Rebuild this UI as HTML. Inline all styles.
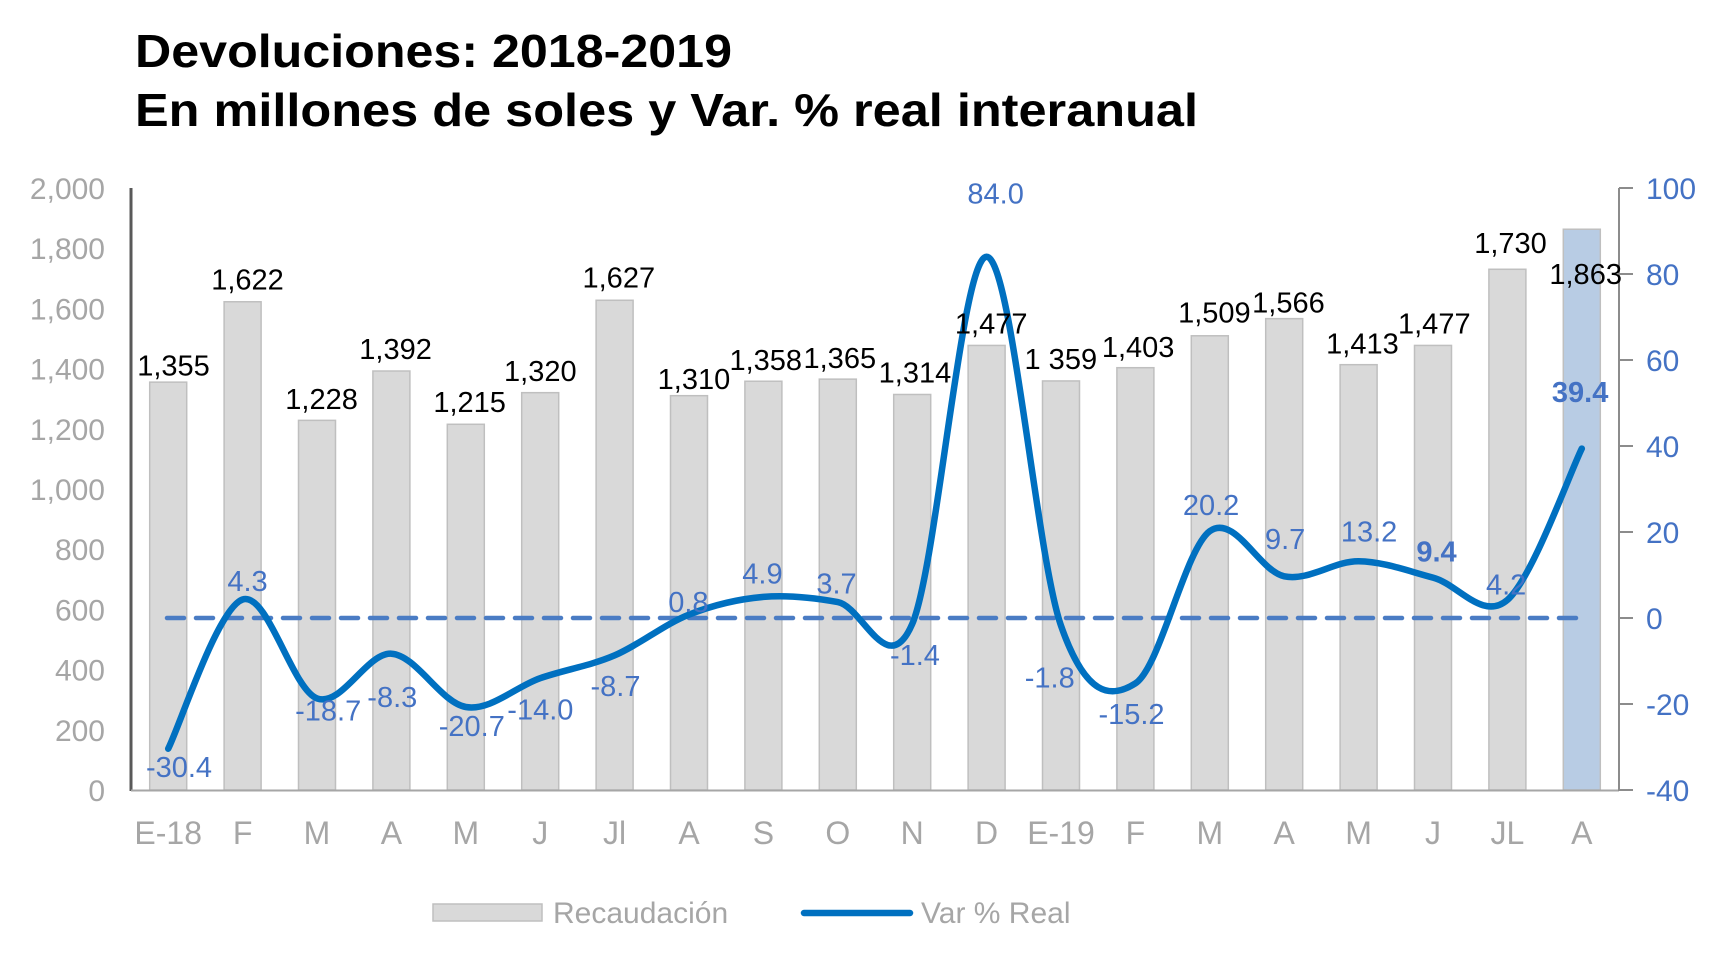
<!DOCTYPE html>
<html><head><meta charset="utf-8">
<style>
html,body{margin:0;padding:0;background:#fff;}
svg{display:block;font-family:"Liberation Sans",Arial,sans-serif;}
</style></head>
<body>
<svg id="c" width="1732" height="964" viewBox="0 0 1732 964" xmlns="http://www.w3.org/2000/svg">
<text x="135" y="67" font-size="46" font-weight="bold" fill="#000" textLength="597" lengthAdjust="spacingAndGlyphs">Devoluciones: 2018-2019</text>
<text x="135" y="126" font-size="46" font-weight="bold" fill="#000" textLength="1063" lengthAdjust="spacingAndGlyphs">En millones de soles y Var. % real interanual</text>
<g id="bars"></g>
<line x1="131" y1="188" x2="131" y2="791" stroke="#595959" stroke-width="3"/>
<line x1="131" y1="790.5" x2="1619" y2="790.5" stroke="#a6a6a6" stroke-width="2"/>
<line x1="1619" y1="188" x2="1619" y2="791" stroke="#8c8c8c" stroke-width="2"/>
<g id="ticks"></g>
<line x1="167" y1="618" x2="1582" y2="618" stroke="#4a7cc4" stroke-width="4.5" stroke-dasharray="17,12" stroke-linecap="round"/>
<path id="ln" d="" fill="none" stroke="#0070c0" stroke-width="6.5" stroke-linecap="round" stroke-linejoin="round"/>
<g id="lbls"></g>
<rect x="433" y="904" width="109" height="17" fill="#d9d9d9" stroke="#bfbfbf" stroke-width="1.5"/>
<text x="553" y="923" font-size="30" fill="#a6a6a6">Recaudación</text>
<line x1="804" y1="913" x2="910" y2="913" stroke="#0070c0" stroke-width="6.5" stroke-linecap="round"/>
<text x="921" y="923" font-size="30" fill="#a6a6a6">Var % Real</text>
</svg>
<script>
var NS="http://www.w3.org/2000/svg";
function el(p,t,a,txt){var e=document.createElementNS(NS,t);for(var k in a)e.setAttribute(k,a[k]);if(txt!==undefined)e.textContent=txt;document.getElementById(p).appendChild(e);return e;}
var cats=["E-18","F","M","A","M","J","Jl","A","S","O","N","D","E-19","F","M","A","M","J","JL","A"];
var vals=[1355,1622,1228,1392,1215,1320,1627,1310,1358,1365,1314,1477,1359,1403,1509,1566,1413,1477,1730,1863];
var vlab=["1,355","1,622","1,228","1,392","1,215","1,320","1,627","1,310","1,358","1,365","1,314","1,477","1 359","1,403","1,509","1,566","1,413","1,477","1,730","1,863"];
var vpos=[[157,340],[224,262],[291,370],[358,325],[425,373],[489,345],[560,260],[628,352],[693,335],[760,333],[828,346],[897,302],[960,334],[1030,323],[1099,292],[1166,283],[1233,320],[1298,302],[1367,229],[1435,257]];
var pct=[-30.4,4.3,-18.7,-8.3,-20.7,-14.0,-8.7,0.8,4.9,3.7,-1.4,84.0,-1.8,-15.2,20.2,9.7,13.2,9.4,4.2,39.4];
var plab=["-30.4","4.3","-18.7","-8.3","-20.7","-14.0","-8.7","0.8","4.9","3.7","-1.4","84.0","-1.8","-15.2","20.2","9.7","13.2","9.4","4.2","39.4"];
var ppos=[[162,703],[224,535],[297,652],[355,640],[427,666],[489,651],[557,630],[623,554],[690,528],[757,537],[828,602],[901,184],[950,622],[1024,655],[1096,466],[1163,497],[1239,490],[1300,508],[1363,538],[1430,364]];
var S=1.105;
var y0=790,y2k=188,py0=618,pk=602/140;
var step=(1619-131)/20;
function cx(i){return 131+step*(i+0.5);}
for(var i=0;i<20;i++){
  var h=vals[i]/2000*(y0-y2k);
  el("bars","rect",{x:cx(i)-18.5,y:y0-h,width:37,height:h,fill:i==19?"#b8cce4":"#d9d9d9",stroke:"#bfbfbf","stroke-width":1.5});
  el("ticks","text",{x:cx(i),y:844,"font-size":32,fill:"#a6a6a6","text-anchor":"middle"},cats[i]);
}
for(var k=0;k<=10;k++){
  var v=k*200,y=y0-v/2000*(y0-y2k);
  el("ticks","text",{x:105,y:y+11,"font-size":30,fill:"#a6a6a6","text-anchor":"end"},v.toLocaleString("en-US"));
}
for(var k=0;k<=7;k++){
  var v=-40+k*20,y=y0-k*(y0-y2k)/7;
  el("ticks","line",{x1:1619,y1:y,x2:1633,y2:y,stroke:"#8c8c8c","stroke-width":2});
  el("ticks","text",{x:1646,y:y+11,"font-size":30,fill:"#4472c4"},String(v));
}
var pts=[];for(var i=0;i<20;i++)pts.push([cx(i),py0-pct[i]*pk]);
var d="M"+pts[0][0].toFixed(1)+","+pts[0][1].toFixed(1);
for(var i=0;i<19;i++){
  var p0=pts[Math.max(0,i-1)],p1=pts[i],p2=pts[i+1],p3=pts[Math.min(19,i+2)];
  var c1=[p1[0]+(p2[0]-p0[0])/6,p1[1]+(p2[1]-p0[1])/6];
  var c2=[p2[0]-(p3[0]-p1[0])/6,p2[1]-(p3[1]-p1[1])/6];
  d+=" C"+c1[0].toFixed(1)+","+c1[1].toFixed(1)+" "+c2[0].toFixed(1)+","+c2[1].toFixed(1)+" "+p2[0].toFixed(1)+","+p2[1].toFixed(1);
}
document.getElementById("ln").setAttribute("d",d);
for(var i=0;i<20;i++){
  el("lbls","text",{x:vpos[i][0]*S,y:vpos[i][1]*S,"font-size":29,fill:"#000","text-anchor":"middle"},vlab[i]);
  var a={x:ppos[i][0]*S,y:ppos[i][1]*S,"font-size":29,fill:"#4472c4","text-anchor":"middle"};
  if(i==17||i==19)a["font-weight"]="bold";
  el("lbls","text",a,plab[i]);
}
</script>
</body></html>
